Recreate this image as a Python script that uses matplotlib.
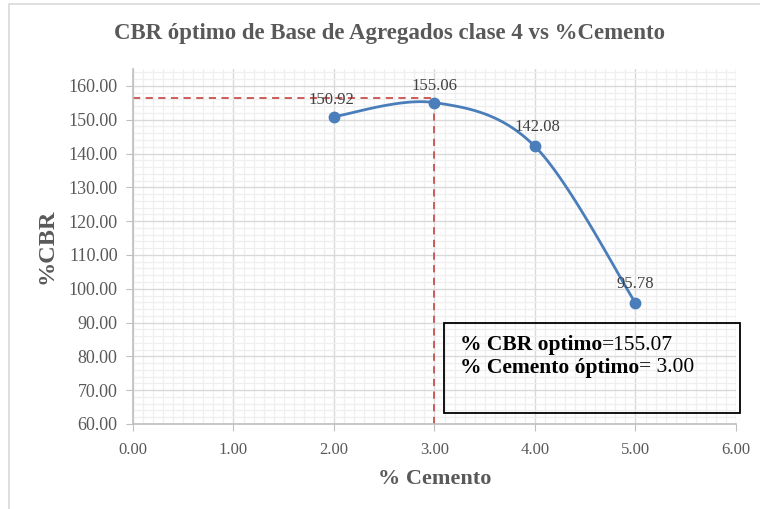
import numpy as np
import matplotlib
matplotlib.use("Agg")
import matplotlib.pyplot as plt
from matplotlib.patches import Rectangle
from matplotlib.ticker import MultipleLocator

# data
cemento = [2.0, 3.0, 4.0, 5.0]
cbr = [150.92, 155.06, 142.08, 95.78]
labels = ["150.92", "155.06", "142.08", "95.78"]
cbr_optimo = 155.07
cem_optimo = 3.00
guide_y = 156.4  # level of the dashed horizontal guide

plt.rcParams['font.family'] = ['Liberation Serif', 'DejaVu Serif']
gray = '#595959'


def excel_smooth(x, y, n=40):
    # Bezier smoothing like Excel's "smoothed line"
    x = np.asarray(x, float)
    y = np.asarray(y, float)
    px = np.concatenate([[x[0]], x, [x[-1]]])
    py = np.concatenate([[y[0]], y, [y[-1]]])
    xs, ys = [], []
    t = np.linspace(0, 1, n)
    for i in range(1, len(px) - 2):
        p0 = np.array([px[i], py[i]])
        p3 = np.array([px[i + 1], py[i + 1]])
        p1 = p0 + (np.array([px[i + 1], py[i + 1]]) - np.array([px[i - 1], py[i - 1]])) / 6
        p2 = p3 - (np.array([px[i + 2], py[i + 2]]) - np.array([px[i], py[i]])) / 6
        b = ((1 - t) ** 3)[:, None] * p0 + (3 * (1 - t) ** 2 * t)[:, None] * p1 \
            + (3 * (1 - t) * t ** 2)[:, None] * p2 + (t ** 3)[:, None] * p3
        xs.extend(b[:, 0])
        ys.extend(b[:, 1])
    return xs, ys


fig = plt.figure(figsize=(7.6, 5.09), dpi=100)
fig.patches.append(Rectangle((9 / 760, -0.05), 1.1, 1 - 4 / 509 + 0.05, transform=fig.transFigure,
                             fill=False, edgecolor='#d9d9d9', linewidth=1.2))
ax = fig.add_axes([133 / 760, 85 / 509, 603 / 760, 355 / 509])

ax.set_xlim(0, 6)
ax.set_ylim(60, 165)
ax.xaxis.set_major_locator(MultipleLocator(1))
ax.xaxis.set_minor_locator(MultipleLocator(0.1))
ax.set_yticks(np.arange(60, 161, 10))
ax.yaxis.set_minor_locator(MultipleLocator(2))
ax.grid(which='major', color='#d9d9d9', linewidth=1.0)
ax.grid(which='minor', color='#efefef', linewidth=0.9)
ax.set_axisbelow(True)
ax.xaxis.set_major_formatter(lambda v, p: f"{v:.2f}")
ax.yaxis.set_major_formatter(lambda v, p: f"{v:.2f}")
ax.tick_params(which='major', length=5, color='#bfbfbf', labelcolor=gray)
ax.tick_params(which='minor', length=0)
ax.tick_params(axis='x', pad=8, labelsize=12)
ax.tick_params(axis='y', pad=6, labelsize=13)
for s in ['top', 'right']:
    ax.spines[s].set_visible(False)
for s in ['left', 'bottom']:
    ax.spines[s].set_color('#bfbfbf')
    ax.spines[s].set_linewidth(1.2)

# guide lines
ax.plot([0, cem_optimo], [guide_y, guide_y], color='#c9504d', linestyle=(0, (4, 3)), linewidth=1.3, zorder=2)
ax.plot([cem_optimo, cem_optimo], [60, guide_y], color='#c9504d', linestyle=(0, (4, 3)), linewidth=1.3, zorder=2)

sx, sy = excel_smooth(cemento, cbr)
ax.plot(sx, sy, color='#4a7ebb', linewidth=2, zorder=3)
ax.plot(cemento, cbr, 'o', color='#4a7ebb', markersize=7.5, zorder=4)

offsets = [(-2, 6.5), (0, 6.5), (2, 8), (0, 8)]
for xv, yv, lab, off in zip(cemento, cbr, labels, offsets):
    ax.annotate(lab, (xv, yv), xytext=off, textcoords='offset points', ha='center', va='bottom',
                fontsize=12, color='#404040')

fig.text(389 / 760, 1 - 33 / 509, "CBR óptimo de Base de Agregados clase 4 vs %Cemento",
         fontsize=16.5, fontweight='bold', color=gray, ha='center', va='center')
ax.set_xlabel("% Cemento", fontsize=16, fontweight='bold', color=gray, labelpad=8)
ax.set_ylabel("%CBR", fontsize=17.5, fontweight='bold', color=gray, labelpad=8)

# info box
box = Rectangle((444 / 760, 1 - 413 / 509), 296 / 760, 90 / 509, transform=fig.transFigure,
                fill=False, edgecolor='black', linewidth=1.3)
fig.patches.append(box)
t1 = fig.text(460 / 760, 1 - 345 / 509, "% CBR optimo", fontsize=15.5, fontweight='bold', va='center')
t2 = fig.text(460 / 760, 1 - 368 / 509, "% Cemento óptimo", fontsize=15.5, fontweight='bold', va='center')
fig.canvas.draw()
r = fig.canvas.get_renderer()
for t, val in [(t1, f"={cbr_optimo:.2f}"), (t2, f"= {cem_optimo:.2f}")]:
    bb = t.get_window_extent(r)
    fig.text(bb.x1 / fig.bbox.width, t.get_position()[1], val, fontsize=15.5, va='center')

fig.savefig("out.png", dpi=100)
